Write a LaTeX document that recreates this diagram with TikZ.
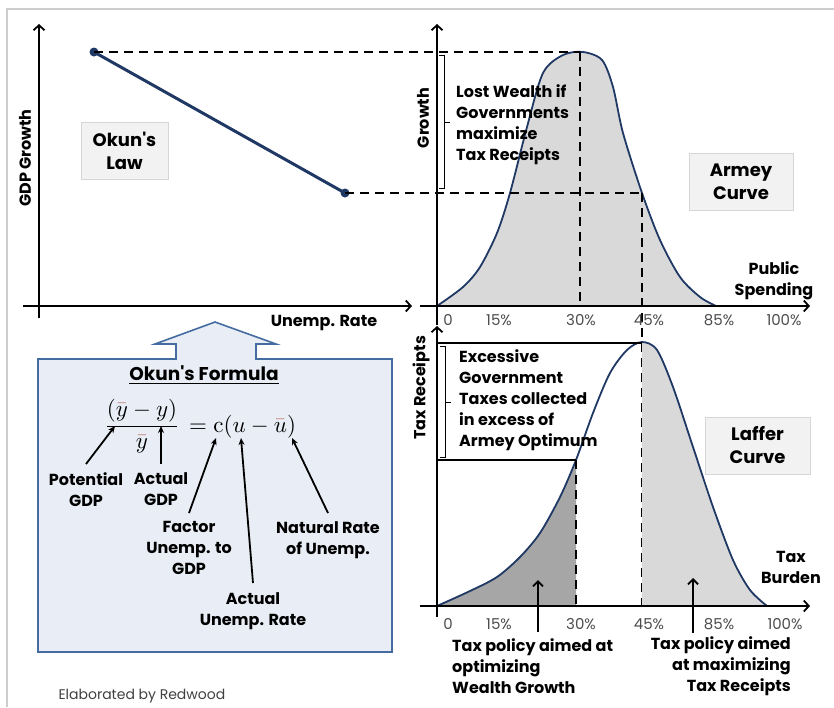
\documentclass[tikz,border=0pt]{standalone}
\usepackage{amsmath}
\usepackage{graphicx}
\usepackage{fontspec}
\setmainfont{Poppins}
\newfontfamily\lmroman{Latin Modern Roman}
\usetikzlibrary{arrows.meta}

\definecolor{navy}{RGB}{31,56,100}
\definecolor{lightfill}{RGB}{217,217,217}
\definecolor{darkfill}{RGB}{166,166,166}
\definecolor{boxfill}{RGB}{242,242,242}
\definecolor{boxline}{RGB}{214,214,214}
\definecolor{formfill}{RGB}{233,238,246}
\definecolor{formline}{RGB}{68,108,160}
\definecolor{barred}{RGB}{190,110,100}
\definecolor{framegray}{RGB}{205,205,205}

\newcommand{\redbar}[1]{{\color{barred}\bar{\color{black}#1}}}

\tikzset{
  axis/.style={line width=1.8pt,-{Straight Barb[length=5pt,width=11pt,line width=1.8pt]}},
  guide/.style={line width=2pt,dash pattern=on 9pt off 6pt},
  curve/.style={navy,line width=1.8pt},
  lbl/.style={font=\fontsize{16}{21}\selectfont\bfseries,inner sep=0pt},
  tick/.style={font=\fontsize{15}{16}\selectfont,text=black!70},
  namebox/.style={draw=boxline,fill=boxfill,line width=1pt,minimum height=57pt,
    font=\fontsize{18}{23}\selectfont\bfseries,align=center},
  pointer/.style={line width=1.8pt,-{Stealth[length=7pt,width=6pt]}},
  uparrow/.style={line width=1.8pt,-{Straight Barb[length=5pt,width=10pt,line width=1.8pt]}},
}

\begin{document}
\begin{tikzpicture}[x=1pt,y=-1pt]
\useasboundingbox (0,0) rectangle (834,707);
% outer frame
\draw[framegray,line width=1.5pt] (7,707) -- (7,9) -- (834,9);

% ---------- Okun's law ----------
\draw[axis] (39,318) -- (39,24);
\draw[axis] (23,306) -- (412,306);
\node[lbl,rotate=90] (gdpgrowth) at (25,158) {GDP Growth};
\node[lbl] (unemp) at (324,323) {Unemp. Rate};
\node[namebox,minimum width=87pt] (okunbox) at (124.5,150.5) {Okun\textquotesingle s\\Law};
\coordinate (okunhi) at (94,52);
\coordinate (okunlo) at (345,193);
\draw[navy,line width=3pt] (okunhi) -- (okunlo);
\fill[navy] (okunhi) circle (4.5pt) (okunlo) circle (4.5pt);

% ---------- Armey curve ----------
\fill[lightfill] plot[smooth] coordinates {(437,306) (463,287) (480,267) (497,233)
  (510,193) (527,127) (543,73) (563,55) (583,52) (602,60) (613,87) (623,133)
  (642,193) (660,240) (680,277) (700,297) (716,306)} -- cycle;
\draw[curve] plot[smooth] coordinates {(437,306) (463,287) (480,267) (497,233)
  (510,193) (527,127) (543,73) (563,55) (583,52) (602,60) (613,87) (623,133)
  (642,193) (660,240) (680,277) (700,297) (716,306)};
\coordinate (armeytop) at (580,52);
\coordinate (armeymid) at (642,193);
\draw[guide] (okunhi) -- (armeytop);
\draw[guide] (okunlo) -- (armeymid);
\draw[guide] (armeytop) -- (580,306);
\draw[guide] (armeymid) -- (642,606);
\draw[axis] (437,325) -- (437,24);
\draw[axis] (420,306) -- (810,306);
\node[lbl,rotate=90] (growth) at (423,118) {Growth};
\draw[line width=1pt] (439,55) -- (444,55) -- (444,188) -- (439,188) (444,122) -- (450,122);
\node[lbl,anchor=north west,align=left] (lost) at (456,84)
  {Lost Wealth if\\Governments\\maximize\\Tax Receipts};
\node[namebox,minimum width=104pt] (armeybox) at (741,182) {Armey\\Curve};
\node[lbl,anchor=north,align=center] (spending) at (774,261) {Public\\Spending};
\foreach \x/\t [count=\i] in {448/0,499/15\%,581/30\%,649/45\%,719/85\%,784/100\%}
  \node[tick] (atick\i) at (\x,320) {\t};

% ---------- Laffer curve ----------
\begin{scope}
  \clip (437,300) rectangle (576,606);
  \fill[darkfill] plot[smooth] coordinates {(437,606) (470,591) (497,577) (520,557)
    (540,533) (560,497) (576,460) (593,413) (610,373) (627,350) (642,342) (657,350)
    (673,387) (693,447) (713,507) (733,560) (750,590) (767,606)} -- cycle;
\end{scope}
\begin{scope}
  \clip (642,300) rectangle (800,606);
  \fill[lightfill] plot[smooth] coordinates {(437,606) (470,591) (497,577) (520,557)
    (540,533) (560,497) (576,460) (593,413) (610,373) (627,350) (642,342) (657,350)
    (673,387) (693,447) (713,507) (733,560) (750,590) (767,606)} -- cycle;
\end{scope}
\draw[curve] plot[smooth] coordinates {(437,606) (470,591) (497,577) (520,557)
  (540,533) (560,497) (576,460) (593,413) (610,373) (627,350) (642,342) (657,350)
  (673,387) (693,447) (713,507) (733,560) (750,590) (767,606)};
\coordinate (lafferpeak) at (642,343);
\coordinate (lafferopt) at (576,460);
\draw[line width=1.5pt] (437,343) -- (lafferpeak);
\draw[line width=1.5pt] (437,460) -- (lafferopt);
\draw[guide] (lafferopt) -- (576,606);
\draw[axis] (437,617) -- (437,326);
\draw[axis] (420,606) -- (810,606);
\node[lbl,rotate=90] (receipts) at (421,388) {Tax Receipts};
\draw[line width=1pt] (440,346) -- (445,346) -- (445,457) -- (440,457) (445,402) -- (451,402);
\node[lbl,anchor=north west,align=left] (excess) at (459,349)
  {Excessive\\Government\\Taxes collected\\in excess of\\Armey Optimum};
\node[namebox,minimum width=105pt] (lafferbox) at (757.5,445.5) {Laffer\\Curve};
\node[lbl,anchor=north,align=center] (burden) at (791,551) {Tax\\Burden};
\foreach \x/\t [count=\i] in {448/0,499/15\%,581/30\%,649/45\%,719/85\%,785/100\%}
  \node[tick] (ltick\i) at (\x,624) {\t};
\node[lbl,anchor=north west,align=left] (wealthpol) at (452,638)
  {Tax policy aimed at\\optimizing\\Wealth Growth};
\node[lbl,anchor=north east,align=right] (taxpol) at (791,636)
  {Tax policy aimed\\at maximizing\\Tax Receipts};
\coordinate (wealthtip) at (538,580);
\coordinate (taxtip) at (693,578);
\draw[uparrow] (538,632) -- (wealthtip);
\draw[uparrow] (693,633) -- (taxtip);

% ---------- Okun's formula ----------
\filldraw[fill=formfill,draw=formline,line width=1.6pt]
  (38,359) -- (176,359) -- (176,344) -- (155,344) -- (215,322) -- (276,344)
  -- (256,344) -- (256,359) -- (392,359) -- (392,652) -- (38,652) -- cycle;
\node[font=\fontsize{18.5}{22}\selectfont\bfseries] (formtitle) at (204,375)
  {\underline{Okun\textquotesingle s Formula}};
\node[anchor=base,inner sep=0pt] (frac) at (142,432.5)
  {\scalebox{2.3}{$\dfrac{(\redbar{y}-y)}{\redbar{y}}$}};
\node[anchor=base west,inner sep=0pt] (rhs) at (189,432.5)
  {\scalebox{2.3}{$=\text{\lmroman c}(u-\redbar{u})$}};
\coordinate (potpt) at (115,426);
\coordinate (actpt) at (161,426);
\coordinate (cpt) at (216,438);
\coordinate (upt) at (241,438);
\coordinate (ubarpt) at (292,438);
\node[lbl,anchor=north,align=center] (potential) at (86,472) {Potential\\GDP};
\node[lbl,anchor=north,align=center] (actual) at (161,472) {Actual\\GDP};
\node[lbl,anchor=north,align=center] (factor) at (189,521) {Factor\\Unemp. to\\GDP};
\node[lbl,anchor=north,align=center] (natural) at (328,521) {Natural Rate\\of Unemp.};
\node[lbl,anchor=north,align=center] (actunemp) at (253,592) {Actual\\Unemp. Rate};
\draw[pointer] (potential.north) ++(0,-8) -- (potpt);
\draw[pointer] (actual.north) ++(0,-8) -- (actpt);
\draw[pointer] (factor.north) ++(0,-8) -- (cpt);
\draw[pointer] (actunemp.north) ++(0,-9) -- (upt);
\draw[pointer] (natural.north) ++(0,-8) -- (ubarpt);

\node[font=\fontsize{14}{16}\selectfont,text=black!75,anchor=west] (credit) at (55,696)
  {Elaborated by Redwood};
\end{tikzpicture}
\end{document}
